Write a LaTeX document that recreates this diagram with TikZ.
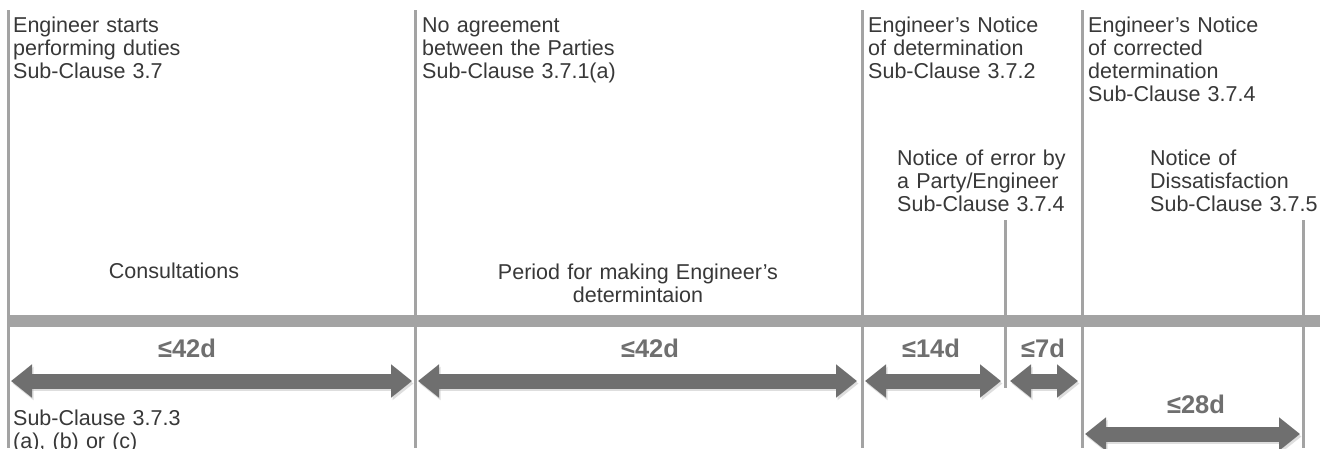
\documentclass[tikz,border=0pt]{standalone}
\usepackage{fontspec}
\setmainfont{Liberation Sans}
\usetikzlibrary{arrows.meta}
\definecolor{linegray}{HTML}{A3A3A3}
\definecolor{arrowgray}{HTML}{6F6F6F}
\definecolor{txt}{HTML}{383838}
\definecolor{shadowgray}{HTML}{B8B8B8}
\begin{document}
\begin{tikzpicture}[x=1pt,y=-1pt,
  vline/.style={draw=linegray, line width=3pt},
  bar/.style={draw=linegray, line width=12pt},
  dur/.style={draw=arrowgray, line width=15pt, {Triangle[length=21pt,width=32pt]}-{Triangle[length=21pt,width=32pt]}},
  durshadow/.style={draw=shadowgray, opacity=0.45, line width=15pt, {Triangle[length=21pt,width=32pt]}-{Triangle[length=21pt,width=32pt]}},
  lbl/.style={font=\fontsize{21.5}{23}\selectfont, text=txt, inner sep=0pt, align=left, text width=230pt, anchor=base west},
  clbl/.style={font=\fontsize{21.5}{23}\selectfont, text=txt, inner sep=0pt, align=center, text width=320pt, anchor=base},
  days/.style={font=\fontsize{25.5}{26}\selectfont\bfseries, text=arrowgray, inner sep=0pt, anchor=base},
]
\useasboundingbox[fill=white] (0,0) rectangle (1335,448);

% vertical milestone lines
\coordinate (l1t) at (8,10);    \coordinate (l1b) at (8,448);
\coordinate (l2t) at (415,10);  \coordinate (l2b) at (415,448);
\coordinate (l3t) at (862,10);  \coordinate (l3b) at (862,448);
\coordinate (l4t) at (1082,10); \coordinate (l4b) at (1082,448);
\coordinate (s1t) at (1005,220); \coordinate (s1b) at (1005,388);
\coordinate (s2t) at (1303,220); \coordinate (s2b) at (1303,448);
\draw[vline] (l1t) -- (l1b);
\draw[vline] (l2t) -- (l2b);
\draw[vline] (l3t) -- (l3b);
\draw[vline] (l4t) -- (l4b);
\draw[vline] (s1t) -- (s1b);
\draw[vline] (s2t) -- (s2b);

% time bar
\coordinate (b1) at (8,321); \coordinate (b2) at (1320,321);
\draw[bar] (b1) -- (b2);

% duration arrows
\coordinate (a1l) at (11,381);   \coordinate (a1r) at (412,381);
\coordinate (a2l) at (418,381);  \coordinate (a2r) at (857,381);
\coordinate (a3l) at (865,381);  \coordinate (a3r) at (1001,381);
\coordinate (a4l) at (1010,381); \coordinate (a4r) at (1078,381);
\coordinate (a5l) at (1085,434); \coordinate (a5r) at (1300,434);
\foreach \p in {1,...,5}{
  \draw[durshadow] ([shift={(1.5,2.5)}]a\p l) -- ([shift={(1.5,2.5)}]a\p r);
  \draw[dur] (a\p l) -- (a\p r);
}

% labels
\node[lbl] (t1) at (13,32) {Engineer starts\\performing duties\\Sub-Clause 3.7};
\node[lbl] (t2) at (422,32) {No agreement\\between the Parties\\Sub-Clause 3.7.1(a)};
\node[lbl] (t3) at (868,32) {Engineer’s Notice\\of determination\\Sub-Clause 3.7.2};
\node[lbl] (t4) at (1088,32) {Engineer’s Notice\\of corrected\\determination\\Sub-Clause 3.7.4};
\node[lbl] (t5) at (897,165) {Notice of error by\\a Party/Engineer\\Sub-Clause 3.7.4};
\node[lbl] (t6) at (1150,165) {Notice of\\Dissatisfaction\\Sub-Clause 3.7.5};
\node[clbl] (cons) at (174,278) {Consultations};
\node[clbl] (period) at (638,279) {Period for making Engineer’s\\determintaion};
\node[lbl] (sub) at (13,425) {Sub-Clause 3.7.3\\(a), (b) or (c)};

\node[days] (d1) at (187,357) {≤42d};
\node[days] (d2) at (650,357) {≤42d};
\node[days] (d3) at (931,357) {≤14d};
\node[days] (d4) at (1043,357) {≤7d};
\node[days] (d5) at (1196,413) {≤28d};
\end{tikzpicture}
\end{document}
